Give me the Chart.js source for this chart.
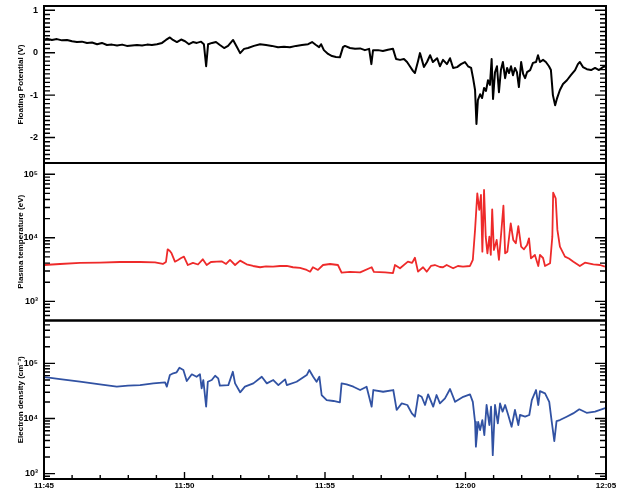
<!DOCTYPE html>
<html><head><meta charset="utf-8">
<script src="https://cdn.jsdelivr.net/npm/chart.js@4/dist/chart.umd.min.js"></script>
<style>
body{margin:0;background:#fff;width:622px;height:492px;overflow:hidden}
canvas{position:absolute;left:0;top:0}
</style></head><body>
<canvas id="c1" width="622" height="492"></canvas>
<canvas id="c2" width="622" height="492"></canvas>
<canvas id="c3" width="622" height="492"></canvas>
<script>
// time in minutes after 11:45
const timeTickLabels = ['11:45','11:50','11:55','12:00','12:05'];
const timeTickMinutes = [0,5,10,15,20];

const potTime = [0,0.11,0.28,0.46,0.64,0.82,1.00,1.17,1.35,1.53,1.71,1.89,2.06,2.24,2.42,2.60,2.78,2.95,3.13,3.31,3.49,3.67,3.84,4.02,4.20,4.34,4.48,4.59,4.73,4.88,5.02,5.16,5.30,5.44,5.59,5.69,5.77,5.84,5.98,6.12,6.26,6.41,6.55,6.73,6.87,6.98,7.12,7.26,7.47,7.69,7.90,8.11,8.33,8.54,8.75,8.97,9.18,9.40,9.54,9.68,9.79,9.86,9.96,10.11,10.25,10.39,10.53,10.64,10.71,10.89,11.07,11.25,11.42,11.57,11.65,11.71,11.89,12.06,12.24,12.42,12.53,12.67,12.81,12.92,13.02,13.13,13.20,13.31,13.38,13.45,13.52,13.63,13.74,13.84,13.99,14.09,14.20,14.34,14.45,14.56,14.70,14.84,14.98,15.09,15.20,15.27,15.34,15.39,15.44,15.52,15.59,15.66,15.73,15.80,15.87,15.93,15.98,16.05,16.12,16.19,16.26,16.33,16.41,16.48,16.55,16.62,16.69,16.76,16.83,16.90,16.98,17.05,17.12,17.19,17.30,17.40,17.51,17.58,17.65,17.76,17.86,17.97,18.04,18.11,18.19,18.26,18.36,18.47,18.61,18.75,18.90,19.00,19.07,19.18,19.32,19.47,19.61,19.75,19.89,20.00];
const potVolt = [0.30,0.33,0.30,0.32,0.29,0.30,0.27,0.25,0.26,0.23,0.24,0.20,0.23,0.18,0.19,0.17,0.19,0.16,0.17,0.18,0.17,0.19,0.18,0.20,0.23,0.30,0.36,0.30,0.25,0.31,0.27,0.20,0.25,0.23,0.26,0.20,-0.32,0.20,0.23,0.25,0.18,0.11,0.16,0.30,0.13,-0.01,0.09,0.11,0.16,0.20,0.18,0.16,0.13,0.14,0.13,0.16,0.18,0.20,0.25,0.18,0.13,0.20,0.06,-0.03,-0.08,-0.10,-0.11,0.13,0.16,0.11,0.09,0.10,0.06,0.09,-0.27,0.06,0.06,0.04,0.07,0.09,-0.15,-0.17,-0.15,-0.22,-0.32,-0.43,-0.48,-0.20,-0.01,-0.17,-0.34,-0.22,-0.06,-0.22,-0.13,-0.32,-0.17,-0.27,-0.13,-0.36,-0.34,-0.27,-0.22,-0.32,-0.36,-0.60,-0.88,-1.68,-1.12,-0.98,-1.07,-0.83,-0.90,-0.65,-0.76,-0.15,-1.09,-0.46,-0.32,-0.93,-0.41,-0.22,-0.60,-0.36,-0.48,-0.32,-0.53,-0.36,-0.46,-0.81,-0.22,-0.50,-0.60,-0.46,-0.41,-0.24,-0.22,-0.06,-0.22,-0.17,-0.22,-0.32,-0.41,-1.00,-1.24,-1.07,-0.88,-0.74,-0.65,-0.53,-0.41,-0.27,-0.22,-0.34,-0.39,-0.41,-0.36,-0.41,-0.34,-0.32];

const tempTime = [0,0.57,1.28,1.99,2.70,3.42,3.95,4.23,4.34,4.40,4.48,4.54,4.66,4.77,4.88,4.98,5.12,5.30,5.48,5.65,5.79,5.94,6.15,6.32,6.48,6.62,6.80,6.98,7.21,7.44,7.69,7.90,8.15,8.40,8.64,8.86,9.11,9.35,9.47,9.57,9.75,9.93,10.18,10.46,10.59,10.89,11.25,11.66,11.74,12.14,12.42,12.49,12.67,12.95,13.10,13.20,13.31,13.49,13.62,13.77,13.91,14.09,14.20,14.33,14.56,14.73,14.91,15.16,15.26,15.34,15.42,15.49,15.55,15.60,15.66,15.72,15.78,15.85,15.90,15.95,16.01,16.11,16.19,16.25,16.35,16.41,16.49,16.61,16.70,16.79,16.88,16.98,17.08,17.19,17.26,17.33,17.47,17.59,17.65,17.76,17.83,18.01,18.09,18.12,18.21,18.27,18.36,18.54,18.68,18.84,19.07,19.25,19.55,19.79,19.96];
const tempEv = [3730,3870,4020,4060,4160,4160,4100,3870,4160,6590,6190,5700,4210,4480,4810,5050,3730,4020,3800,4590,3730,4160,4210,4260,3870,4480,3730,4370,3830,3600,3440,3540,3510,3600,3600,3440,3350,3120,2930,3440,3120,3730,3870,3730,2830,2900,2860,3440,2900,2860,2790,3730,3310,4210,4020,4860,2930,3440,2930,3600,3730,3470,3440,3730,3310,3600,3510,3600,4480,13300,50100,27400,47100,6040,56400,10400,5700,10400,5370,28000,6430,9230,4480,9230,32000,5700,6040,16900,9230,8190,15300,7240,6590,7710,9790,4750,5370,3600,5370,4810,3600,3970,10400,51200,41800,13300,7240,5050,4720,4210,3600,4060,3830,3730,3510];

const denTime = [0,0.10,0.57,1.28,1.99,2.59,2.99,3.42,3.89,4.31,4.37,4.48,4.60,4.72,4.82,4.96,5.08,5.26,5.43,5.55,5.61,5.67,5.77,5.83,5.97,6.09,6.20,6.26,6.56,6.72,6.80,6.98,7.15,7.45,7.75,7.93,8.16,8.34,8.58,8.64,8.99,9.35,9.44,9.58,9.70,9.80,9.88,10.06,10.30,10.53,10.59,10.77,11.01,11.25,11.48,11.66,11.72,12.07,12.43,12.55,12.73,12.93,13.09,13.20,13.32,13.44,13.56,13.67,13.85,13.97,14.09,14.27,14.45,14.63,14.92,15.16,15.26,15.34,15.37,15.45,15.52,15.60,15.67,15.75,15.85,15.91,15.97,16.05,16.15,16.23,16.32,16.41,16.52,16.64,16.76,16.88,16.94,17.12,17.27,17.36,17.51,17.59,17.65,17.83,17.98,18.07,18.16,18.24,18.36,18.60,18.83,19.05,19.31,19.61,20.00];
const denCm3 = [56600,55800,52000,46500,41700,37800,39400,40400,43400,45300,37800,61500,66100,68900,83400,75800,47900,63400,57300,63400,35300,49900,16400,46500,49900,59700,53600,39400,40400,70600,43400,29900,37800,43400,57300,43400,49900,40400,51400,40400,46500,61500,75800,57300,46500,57300,26700,21600,20800,19600,43400,41700,37800,32900,37800,16400,32900,30600,32900,14300,18800,17600,12400,10800,26700,24800,17600,27500,16400,26700,18800,23200,34300,20100,24800,27500,20100,8730,3080,8730,6180,9380,5010,17600,7620,16400,2170,17600,8170,18800,13300,17600,11600,7100,14300,7620,11600,10800,11600,21600,32900,17600,31500,28600,20100,8730,3900,9000,9380,10800,12400,14700,12700,13300,15700];

const potTicks = [-2,-1,0,1];
const logTicks = [1000,10000,100000];
const supDigits = {3:'\u00B3',4:'\u2074',5:'\u2075'};

const FONT = "'Liberation Sans', Arial, sans-serif";

const framePlugin = {
  id: 'frame',
  afterDatasetsDraw(chart, args, opts) {
    const {ctx, chartArea: a, scales} = chart;
    const y = scales.y, x = scales.x;
    ctx.save();
    ctx.strokeStyle = '#000';
    ctx.lineWidth = 1.4;
    const tick = (v, len) => {
      const p = y.getPixelForValue(v);
      if (p < a.top + 1 || p > a.bottom - 1) return;
      ctx.beginPath();
      ctx.moveTo(a.left, p); ctx.lineTo(a.left + len, p);
      ctx.moveTo(a.right, p); ctx.lineTo(a.right - len, p);
      ctx.stroke();
    };
    if (opts.log) {
      const e0 = Math.floor(Math.log10(y.min)), e1 = Math.ceil(Math.log10(y.max));
      for (let e = e0; e <= e1; e++) for (let k = 1; k < 10; k++) tick(k * Math.pow(10, e), k === 1 ? 11 : 6);
    } else {
      const st = opts.minor;
      const n0 = Math.ceil(y.min / st - 1e-6), n1 = Math.floor(y.max / st + 1e-6);
      for (let n = n0; n <= n1; n++) { const v = n * st; tick(v, Math.abs(v - Math.round(v)) < 1e-6 ? 11 : 6); }
    }
    if (opts.xTicks) {
      for (let m = x.min; m <= x.max; m++) {
        const p = x.getPixelForValue(m);
        ctx.beginPath(); ctx.moveTo(p, a.bottom); ctx.lineTo(p, a.bottom - (m % 5 === 0 ? 7 : 4)); ctx.stroke();
      }
    }
    ctx.lineWidth = 2;
    ctx.strokeRect(a.left, a.top, a.right - a.left, a.bottom - a.top);
    ctx.restore();
  }
};

function xScale(show) {
  return {
    type: 'linear', min: 0, max: 20, display: show,
    grid: {display: false, drawTicks: false}, border: {display: false},
    afterBuildTicks: s => { s.ticks = timeTickMinutes.map(v => ({value: v})); },
    afterFit: s => { s.height = show ? 13 : 0; s.paddingLeft = 0; s.paddingRight = 0; },
    ticks: {
      autoSkip: false, maxRotation: 0, minRotation: 0, padding: 2, color: '#000',
      font: {family: FONT, size: 8, weight: 'bold'},
      callback: v => timeTickLabels[timeTickMinutes.indexOf(v)]
    }
  };
}

function logLabel(v) { return '10' + supDigits[Math.round(Math.log10(v))]; }

function yScale(opt) {
  const ticks = {color: '#000', padding: 6, font: {family: FONT, size: 9, weight: 'bold'}};
  if (opt.log) ticks.callback = logLabel;
  return {
    type: opt.log ? 'logarithmic' : 'linear', min: opt.min, max: opt.max,
    position: 'left',
    grid: {display: false, drawTicks: false}, border: {display: false},
    afterBuildTicks: s => { s.ticks = opt.tickValues.map(v => ({value: v})); },
    afterFit: s => { s.width = 44; s.paddingTop = 0; s.paddingBottom = 0; },
    title: {display: true, text: opt.title, color: '#000', padding: {top: 16, bottom: 0},
            font: {family: FONT, size: 8, weight: 'bold'}},
    ticks
  };
}

function makeChart(id, times, vals, color, width, pad, yopt, plug, showX) {
  return new Chart(document.getElementById(id), {
    type: 'line',
    data: {datasets: [{
      data: times.map((t, i) => ({x: t, y: vals[i]})),
      borderColor: color, borderWidth: width, pointRadius: 0, tension: 0, fill: false,
      borderJoinStyle: 'round'
    }]},
    options: {
      responsive: false, animation: false, devicePixelRatio: 1, events: [],
      layout: {padding: pad},
      plugins: {legend: {display: false}, tooltip: {enabled: false}, frame: plug},
      scales: {x: xScale(showX), y: yScale(yopt)}
    },
    plugins: [framePlugin]
  });
}

makeChart('c1', potTime, potVolt, '#000000', 2,
  {left: 0, right: 16, top: 6, bottom: 329},
  {title: 'Floating Potential (V)', log: false, min: -2.6, max: 1.1, tickValues: potTicks},
  {log: false, minor: 0.1, xTicks: false}, false);

makeChart('c2', tempTime, tempEv, '#ee2a2a', 1.8,
  {left: 0, right: 16, top: 163, bottom: 171.5},
  {title: 'Plasma temperature (eV)', log: true, min: 500, max: 150000, tickValues: logTicks},
  {log: true, xTicks: false}, false);

makeChart('c3', denTime, denCm3, '#3152a3', 1.8,
  {left: 0, right: 16, top: 320.5, bottom: 0},
  {title: 'Electron density (cm\u207B\u00B3)', log: true, min: 800, max: 600000, tickValues: logTicks},
  {log: true, xTicks: true}, true);
</script>
</body></html>
